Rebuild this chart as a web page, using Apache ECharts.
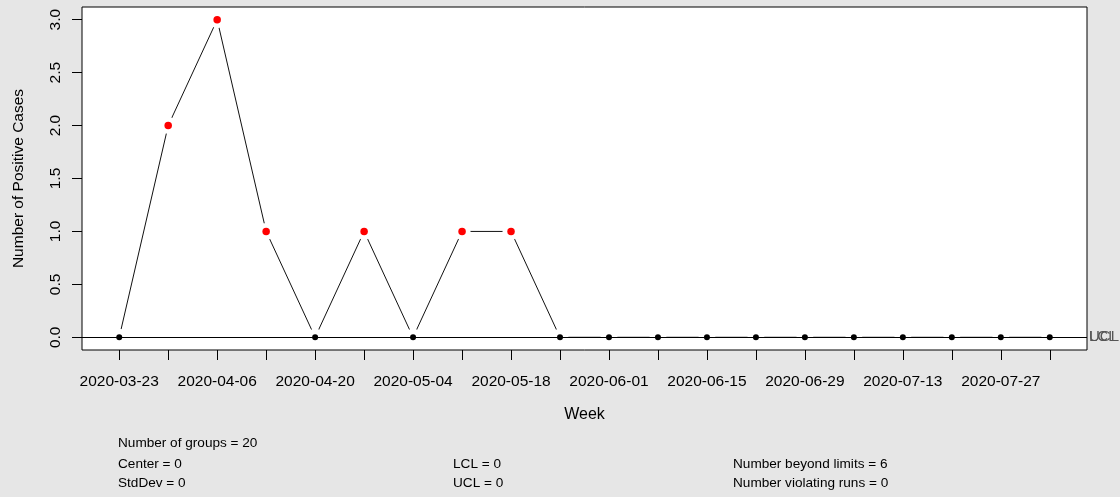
<!DOCTYPE html>
<html>
<head>
<meta charset="utf-8">
<script src="https://cdn.jsdelivr.net/npm/echarts@6/dist/echarts.min.js"></script>
<style>
  html, body { margin: 0; padding: 0; background: #e6e6e6; }
  #chart { width: 1120px; height: 497px; }
</style>
</head>
<body>
<div id="chart"></div>
<script>
// qcc-style control chart: positive cases per week

const weeks = [
    '2020-03-23', '2020-03-30', '2020-04-06', '2020-04-13', '2020-04-20',
    '2020-04-27', '2020-05-04', '2020-05-11', '2020-05-18', '2020-05-25',
    '2020-06-01', '2020-06-08', '2020-06-15', '2020-06-22', '2020-06-29',
    '2020-07-06', '2020-07-13', '2020-07-20', '2020-07-27', '2020-08-03'
];
const cases = [0, 2, 3, 1, 0, 1, 0, 1, 1, 0, 0, 0, 0, 0, 0, 0, 0, 0, 0, 0];
const yTicks = [0, 0.5, 1, 1.5, 2, 2.5, 3];

const center = 0;
const stdDev = 0;
const lcl = 0;
const ucl = 0;
const violatingRuns = 0;

const FONT = '"Liberation Sans", Arial, sans-serif';

const groupIdx = weeks.map((w, i) => i + 1);
const points = cases.map((v, i) => [i + 1, v]);
const isOut = v => v > ucl || v < lcl;
const beyond = cases.filter(isOut).length;

const chart = echarts.init(document.getElementById('chart'));

const statText = (x, y, text) => ({
    type: 'text',
    left: x,
    top: y,
    style: { text, font: '13.6px ' + FONT, fill: '#000' }
});

const option = {
    backgroundColor: '#e6e6e6',
    animation: false,
    grid: {
        left: 82, right: 33, top: 7, bottom: 147,
        show: true,
        backgroundColor: '#fff',
        borderColor: '#000',
        borderWidth: 1
    },
    xAxis: {
        type: 'value',
        min: 0.24,
        max: 20.76,
        name: 'Week',
        nameLocation: 'middle',
        nameGap: 57,
        nameTextStyle: { fontFamily: FONT, fontSize: 16, color: '#000' },
        axisLine: { show: false, onZero: false },
        splitLine: { show: false },
        axisTick: {
            show: true, length: 10, inside: false,
            customValues: groupIdx,
            lineStyle: { color: '#000', width: 1 }
        },
        axisLabel: {
            customValues: groupIdx.filter((v, i) => i % 2 === 0),
            formatter: v => weeks[Math.round(v) - 1] || '',
            fontFamily: FONT, fontSize: 15.5, color: '#000', margin: 24
        }
    },
    yAxis: {
        type: 'value',
        min: -0.12,
        max: 3.12,
        name: 'Number of Positive Cases',
        nameLocation: 'middle',
        nameRotate: 90,
        nameGap: 55,
        nameTextStyle: { fontFamily: FONT, fontSize: 15.5, color: '#000' },
        axisLine: { show: false, onZero: false },
        splitLine: { show: false },
        axisTick: {
            show: true, length: 10,
            customValues: yTicks,
            lineStyle: { color: '#000', width: 1 }
        },
        axisLabel: {
            customValues: yTicks,
            formatter: v => v.toFixed(1),
            rotate: 90,
            fontFamily: FONT, fontSize: 15.5, color: '#000', margin: 18
        }
    },
    series: [
        {
            // connecting line
            type: 'line',
            data: points,
            showSymbol: false,
            z: 2,
            lineStyle: { color: '#111', width: 1 },
            silent: true
        },
        {
            // white halo to leave the gaps around the points
            type: 'scatter',
            data: points,
            symbolSize: 17,
            z: 3,
            itemStyle: { color: '#fff', opacity: 1 },
            silent: true
        },
        {
            // center line and control limits
            type: 'line',
            data: [],
            z: 4,
            markLine: {
                symbol: 'none',
                silent: true,
                lineStyle: { color: '#000', type: 'solid', width: 1 },
                label: {
                    position: 'end', distance: 2,
                    fontFamily: FONT, fontSize: 15, color: '#555'
                },
                data: [
                    { yAxis: center, label: { show: false } },
                    { yAxis: lcl, label: { formatter: 'LCL' } },
                    { yAxis: ucl, label: { formatter: 'UCL' } }
                ]
            }
        },
        {
            type: 'scatter',
            data: points,
            z: 5,
            symbolSize: val => isOut(val[1]) ? 7.5 : 6,
            itemStyle: {
                opacity: 1,
                color: p => isOut(p.value[1]) ? '#ff0000' : '#000'
            }
        }
    ],
    graphic: [
        statText(118, 436, 'Number of groups = ' + cases.length),
        statText(118, 457, 'Center = ' + center),
        statText(118, 476, 'StdDev = ' + stdDev),
        statText(453, 457, 'LCL = ' + lcl),
        statText(453, 476, 'UCL = ' + ucl),
        statText(733, 457, 'Number beyond limits = ' + beyond),
        statText(733, 476, 'Number violating runs = ' + violatingRuns)
    ]
};

try {
    chart.setOption(option);
} catch (error) {
    console.error('[ControlChart] setOption error:', error);
}
</script>
</body>
</html>
